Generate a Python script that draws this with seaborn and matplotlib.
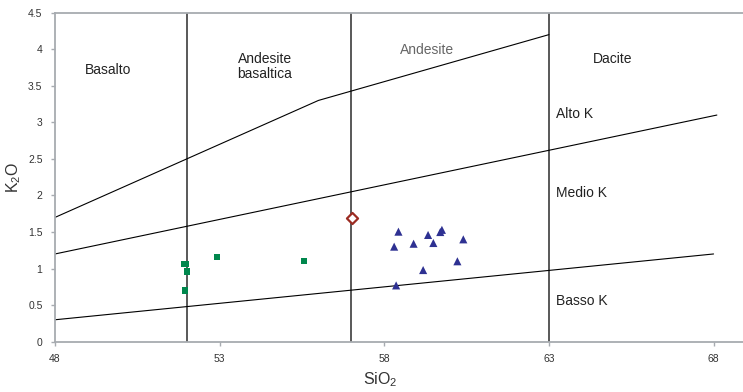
import matplotlib
matplotlib.use("Agg")
import matplotlib.pyplot as plt
import seaborn as sns
import pandas as pd

# ---- data ----
# Boundary lines (Peccerillo & Taylor style)
high_x = [48, 56, 63]
high_y = [1.7, 3.3, 4.2]
med_x = [48, 68.1]
med_y = [1.2, 3.1]
low_x = [48, 68]
low_y = [0.3, 1.2]
div_x = [52, 57, 63]

# Samples
green_x = [51.92, 51.98, 52.01, 51.94, 52.91, 55.56]
green_y = [1.06, 1.06, 0.96, 0.70, 1.16, 1.10]
red_x = [57.01]
red_y = [1.69]
blue_x = [58.43, 58.30, 58.89, 59.33, 59.49, 59.70, 59.75, 60.40, 60.22, 59.18, 58.36]
blue_y = [1.505, 1.30, 1.34, 1.46, 1.35, 1.50, 1.53, 1.40, 1.10, 0.98, 0.77]

x_ticks = [48, 53, 58, 63, 68]
y_ticks = [0, 0.5, 1, 1.5, 2, 2.5, 3, 3.5, 4, 4.5]
y_tick_labels = ["0", "0.5", "1", "1.5", "2", "2.5", "3", "3.5", "4", "4.5"]

region_labels = ["Basalto", "Andesite\nbasaltica", "Andesite", "Dacite"]
region_x = [49.6, 54.38, 59.31, 64.93]
region_y = [3.72, 3.76, 3.99, 3.87]
k_labels = ["Alto K", "Medio K", "Basso K"]
k_x = [63.2, 63.2, 63.2]
k_y = [3.11, 2.03, 0.56]

# ---- style ----
sns.set_style("white")
plt.rcParams["font.family"] = ["Liberation Sans", "DejaVu Sans"]
plt.rcParams["mathtext.fontset"] = "custom"
plt.rcParams["mathtext.rm"] = "Liberation Sans"
plt.rcParams["mathtext.it"] = "Liberation Sans:italic"

fig = plt.figure(figsize=(7.43, 3.92), dpi=100)
ax = fig.add_axes([55 / 743, 50.3 / 392, 688.2 / 743, 329 / 392])

spine_col = "#a7abb0"
for s in ["left", "bottom", "top"]:
    ax.spines[s].set_color(spine_col)
    ax.spines[s].set_linewidth(1.3)
ax.spines["right"].set_visible(False)

# vertical dividers
for xv in div_x:
    ax.plot([xv, xv], [0, 4.5], color="#2b2b2b", lw=1.1, zorder=2)

ax.plot(high_x, high_y, color="black", lw=0.8, zorder=2)
ax.plot(med_x, med_y, color="black", lw=0.8, zorder=2)
ax.plot(low_x, low_y, color="black", lw=0.8, zorder=2)

green = pd.DataFrame({"x": green_x, "y": green_y})
red = pd.DataFrame({"x": red_x, "y": red_y})
blue = pd.DataFrame({"x": blue_x, "y": blue_y})

sns.scatterplot(data=green, x="x", y="y", marker="s", s=20, color="#00874D",
                edgecolor="none", ax=ax, zorder=3)
sns.scatterplot(data=blue, x="x", y="y", marker="^", s=34, color="#2E3192",
                edgecolor="none", ax=ax, zorder=3)
sns.scatterplot(data=red, x="x", y="y", marker="D", s=32, facecolor="white",
                edgecolor="#9B2B22", linewidth=1.6, ax=ax, zorder=4)

for t, x, y in zip(region_labels, region_x, region_y):
    ax.text(x, y, t, ha="center", va="center", fontsize=10,
            color="#222222" if t != "Andesite" else "#666666",
            linespacing=1.1, multialignment="left")
for t, x, y in zip(k_labels, k_x, k_y):
    ax.text(x, y, t, ha="left", va="center", fontsize=10, color="#222222")

ax.set_xlim(48, 68.9)
ax.set_ylim(0, 4.5)
ax.set_xticks(x_ticks)
ax.set_yticks(y_ticks)
ax.set_yticklabels(y_tick_labels)
ax.tick_params(axis="both", which="major", direction="out", length=3,
               width=1, color=spine_col, labelsize=7.5, labelcolor="#333333",
               pad=6)
ax.tick_params(axis="x", bottom=True)
ax.tick_params(axis="y", left=True)

ax.set_xlabel(r"SiO$_\mathrm{2}$", fontsize=11.5, color="#333333")
ax.set_ylabel(r"K$_\mathrm{2}$O", fontsize=11.5, color="#333333")
ax.xaxis.set_label_coords(0.4723, -0.088)
ax.yaxis.set_label_coords(-0.046, 0.5)

fig.savefig("out.png", dpi=100)
